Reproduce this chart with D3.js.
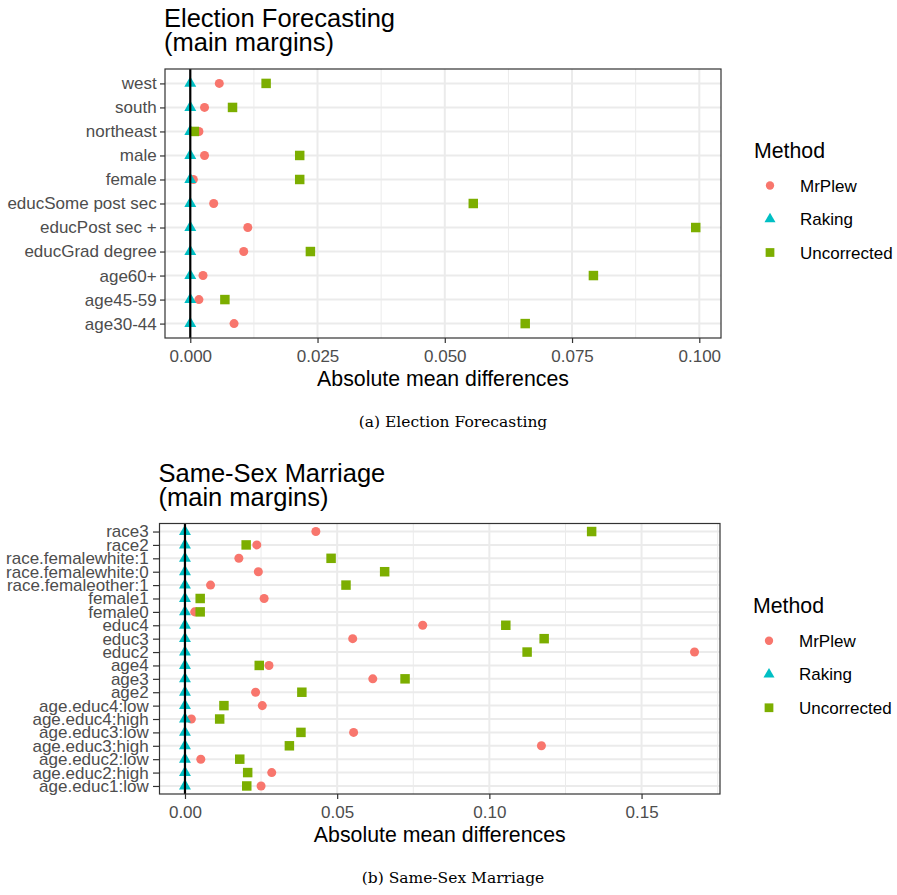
<!DOCTYPE html>
<html>
<head>
<meta charset="utf-8">
<script src="https://cdn.jsdelivr.net/npm/d3@7"></script>
<style>
  body { margin: 0; background: #fff; }
  text { font-family: "Liberation Sans", Arial, sans-serif; }
  text.caption { font-family: "DejaVu Serif", serif; }
</style>
</head>
<body>
<div id="chart"></div>
<script>
// Methods and their ggplot hue colours
const methods = ["MrPlew", "Raking", "Uncorrected"];
const methodColors = ["#F8766D", "#00BFC4", "#7CAE00"];

// Election forecasting (listed bottom to top, like the ggplot factor order)
const electionCategories = ["age30-44", "age45-59", "age60+", "educGrad degree", "educPost sec +",
  "educSome post sec", "female", "male", "northeast", "south", "west"];
const electionMrPlew = [0.0086, 0.0017, 0.0025, 0.0105, 0.0113, 0.0046, 0.0006, 0.0028, 0.0017, 0.0028, 0.0057];
const electionRaking = [0, 0, 0, 0, 0, 0, 0, 0, 0, 0, 0];
const electionUncorrected = [0.0658, 0.0068, 0.0792, 0.0236, 0.0993, 0.0556, 0.0215, 0.0215, 0.0008, 0.0083, 0.0149];
const electionTicks = [0, 0.025, 0.05, 0.075, 0.1];
const electionMinorTicks = [0.0125, 0.0375, 0.0625, 0.0875];

// Same-sex marriage (bottom to top)
const marriageCategories = ["age.educ1:low", "age.educ2:high", "age.educ2:low", "age.educ3:high", "age.educ3:low",
  "age.educ4:high", "age.educ4:low", "age2", "age3", "age4", "educ2", "educ3", "educ4", "female0", "female1",
  "race.femaleother:1", "race.femalewhite:0", "race.femalewhite:1", "race2", "race3"];
const marriageMrPlew = [0.0250, 0.0285, 0.0052, 0.1171, 0.0554, 0.0021, 0.0254, 0.0232, 0.0617, 0.0276,
  0.1674, 0.0551, 0.0781, 0.0032, 0.0260, 0.0084, 0.0241, 0.0177, 0.0236, 0.0430];
const marriageRaking = [0, 0, 0, 0, 0, 0, 0, 0, 0, 0, 0, 0, 0, 0, 0, 0, 0, 0, 0, 0];
const marriageUncorrected = [0.0203, 0.0206, 0.0180, 0.0343, 0.0381, 0.0114, 0.0128, 0.0384, 0.0723, 0.0244,
  0.1124, 0.1180, 0.1054, 0.0050, 0.0050, 0.0529, 0.0656, 0.0480, 0.0201, 0.1336];
const marriageTicks = [0, 0.05, 0.1, 0.15];
const marriageMinorTicks = [0.025, 0.075, 0.125, 0.175];

class DotPlot {
  constructor(_config, _data) {
    this.config = {
      parentElement: _config.parentElement,
      left: _config.left,
      top: _config.top,
      width: _config.width,
      height: _config.height,
      title: _config.title,
      caption: _config.caption,
      captionY: _config.captionY,
      ticks: _config.ticks,
      minorTicks: _config.minorTicks,
      tickFormat: _config.tickFormat,
      yTickSize: _config.yTickSize || 5,
      yTickPadding: _config.yTickPadding || 3.5,
    };
    this.data = _data;
    this.initVis();
  }

  initVis() {
    const vis = this;
    const w = vis.config.width;
    const h = vis.config.height;

    vis.g = vis.config.parentElement
      .append("g")
      .attr("transform", `translate(${vis.config.left},${vis.config.top})`);

    // ggplot style 5% expansion of the continuous range
    const allValues = vis.data.series.flatMap((s) => s.values);
    const [lo, hi] = d3.extent(allValues);
    const pad = (hi - lo) * 0.05;
    vis.x = d3.scaleLinear().domain([lo - pad, hi + pad]).range([0, w]);
    vis.y = d3.scalePoint().domain(vis.data.categories).range([h, 0]).padding(0.6);

    vis.color = d3.scaleOrdinal().domain(methods).range(methodColors);
    vis.symbol = d3.scaleOrdinal().domain(methods)
      .range([d3.symbolCircle, d3.symbolTriangle, d3.symbolSquare]);
    vis.symbolSize = d3.scaleOrdinal().domain(methods).range([64, 62, 90]);

    // Title (two lines)
    vis.g.selectAll("text.title")
      .data(vis.config.title)
      .join("text")
      .attr("class", "title")
      .attr("x", -1)
      .attr("y", (d, i) => -42 + i * 24)
      .style("font-size", "25.5px")
      .style("fill", "#000")
      .text((d) => d);

    // Panel background
    vis.g.append("rect").attr("width", w).attr("height", h).attr("fill", "#fff");

    // Grid lines
    vis.g.append("g").selectAll("line")
      .data(vis.config.minorTicks)
      .join("line")
      .attr("x1", (d) => vis.x(d)).attr("x2", (d) => vis.x(d))
      .attr("y1", 0).attr("y2", h)
      .attr("stroke", "#EBEBEB").attr("stroke-width", 1);
    vis.g.append("g").selectAll("line")
      .data(vis.config.ticks)
      .join("line")
      .attr("x1", (d) => vis.x(d)).attr("x2", (d) => vis.x(d))
      .attr("y1", 0).attr("y2", h)
      .attr("stroke", "#EBEBEB").attr("stroke-width", 2);
    vis.g.append("g").selectAll("line")
      .data(vis.data.categories)
      .join("line")
      .attr("x1", 0).attr("x2", w)
      .attr("y1", (d) => vis.y(d)).attr("y2", (d) => vis.y(d))
      .attr("stroke", "#EBEBEB").attr("stroke-width", 2);

    // Points, one group per method
    vis.g.selectAll(".series")
      .data(vis.data.series)
      .join("g")
      .attr("class", "series")
      .attr("fill", (d) => vis.color(d.method))
      .selectAll("path")
      .data((d) => d.values.map((v, i) => ({ method: d.method, value: v, cat: vis.data.categories[i] })))
      .join("path")
      .attr("d", (d) => d3.symbol(vis.symbol(d.method), vis.symbolSize(d.method))())
      .attr("transform", (d) => `translate(${vis.x(d.value)},${vis.y(d.cat)})`);

    // Reference line at zero
    vis.g.append("line")
      .attr("x1", vis.x(0)).attr("x2", vis.x(0))
      .attr("y1", 0).attr("y2", h)
      .attr("stroke", "#000").attr("stroke-width", 2.2);

    // Panel border
    vis.g.append("rect")
      .attr("width", w).attr("height", h)
      .attr("fill", "none").attr("stroke", "#333").attr("stroke-width", 1.2);

    // Axes
    const xAxis = vis.g.append("g")
      .attr("transform", `translate(0,${h})`)
      .call(d3.axisBottom(vis.x).tickValues(vis.config.ticks)
        .tickFormat(vis.config.tickFormat).tickSize(5).tickPadding(7).tickSizeOuter(0));
    const yAxis = vis.g.append("g")
      .call(d3.axisLeft(vis.y).tickSize(vis.config.yTickSize)
        .tickPadding(vis.config.yTickPadding).tickSizeOuter(0));
    [xAxis, yAxis].forEach((a) => {
      a.select(".domain").remove();
      a.selectAll(".tick line").attr("stroke", "#333").attr("stroke-width", 1.2);
      a.selectAll(".tick text")
        .style("font-size", "17px")
        .style("font-family", "'Liberation Sans', Arial, sans-serif")
        .attr("fill", "#4D4D4D");
    });

    // X axis label
    vis.g.append("text")
      .attr("x", w / 2)
      .attr("y", h + 48)
      .style("text-anchor", "middle")
      .style("font-size", "21.3px")
      .text("Absolute mean differences");

    // Legend
    const legend = vis.g.append("g")
      .attr("transform", `translate(${w + 33},${h / 2 - 46})`);
    legend.append("text")
      .attr("x", 0).attr("y", 0)
      .style("font-size", "21.3px")
      .text("Method");
    const items = legend.selectAll(".legendItem")
      .data(methods)
      .join("g")
      .attr("class", "legendItem")
      .attr("transform", (d, i) => `translate(0,${28 + i * 33.5})`);
    items.append("path")
      .attr("d", (d) => d3.symbol(vis.symbol(d), vis.symbolSize(d) * 0.85)())
      .attr("transform", "translate(16,0)")
      .attr("fill", (d) => vis.color(d));
    items.append("text")
      .attr("x", 46).attr("dy", "0.36em")
      .style("font-size", "17px")
      .text((d) => d);

    // Sub-figure caption
    vis.config.parentElement.append("text")
      .attr("class", "caption")
      .attr("x", 453)
      .attr("y", vis.config.captionY)
      .style("text-anchor", "middle")
      .style("font-size", "15.5px")
      .text(vis.config.caption);
  }
}

const svg = d3.select("#chart")
  .append("svg")
  .attr("width", 897)
  .attr("height", 895);

const electionPlot = new DotPlot(
  {
    parentElement: svg,
    left: 165, top: 69, width: 556, height: 269,
    title: ["Election Forecasting", "(main margins)"],
    caption: "(a) Election Forecasting",
    captionY: 427,
    ticks: electionTicks,
    minorTicks: electionMinorTicks,
    tickFormat: d3.format(".3f"),
    yTickSize: 5, yTickPadding: 3.3,
  },
  {
    categories: electionCategories,
    series: [
      { method: "MrPlew", values: electionMrPlew },
      { method: "Raking", values: electionRaking },
      { method: "Uncorrected", values: electionUncorrected },
    ],
  }
);

const marriagePlot = new DotPlot(
  {
    parentElement: svg,
    left: 159.5, top: 523.5, width: 560.5, height: 270.5,
    title: ["Same-Sex Marriage", "(main margins)"],
    caption: "(b) Same-Sex Marriage",
    captionY: 883,
    ticks: marriageTicks,
    minorTicks: marriageMinorTicks,
    tickFormat: d3.format(".2f"),
    yTickSize: 6.5, yTickPadding: 4.3,
  },
  {
    categories: marriageCategories,
    series: [
      { method: "MrPlew", values: marriageMrPlew },
      { method: "Raking", values: marriageRaking },
      { method: "Uncorrected", values: marriageUncorrected },
    ],
  }
);
</script>
</body>
</html>
